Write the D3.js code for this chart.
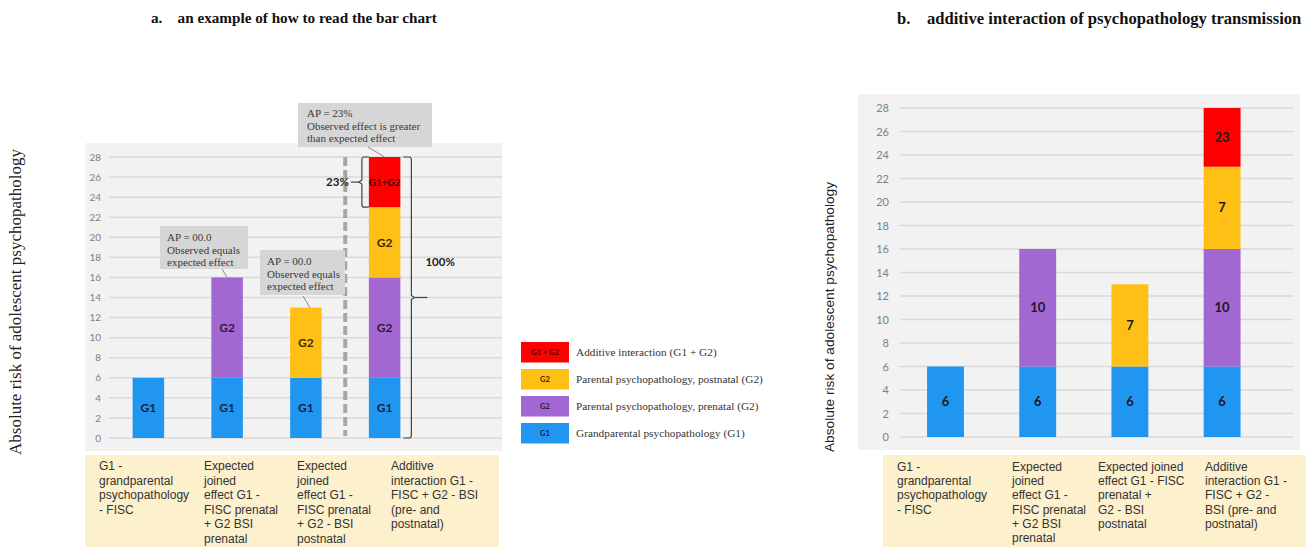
<!DOCTYPE html>
<html>
<head>
<meta charset="utf-8">
<script src="https://cdn.jsdelivr.net/npm/d3@7"></script>
<style>
  html, body { margin: 0; padding: 0; background: #fff; }
  svg { display: block; }
</style>
</head>
<body>
<svg id="chart" width="1306" height="547"></svg>
<script>
// ---- data ----
const categories = ["G1", "G1+G2pre", "G1+G2post", "G1+G2all"];
const seriesKeys = ["g1", "g2pre", "g2post", "interaction"];
const g1Values = [6, 6, 6, 6];
const g2PrenatalValues = [0, 10, 0, 10];
const g2PostnatalValues = [0, 0, 7, 7];
const interactionValues = [0, 0, 0, 5];
const yTicks = [0, 2, 4, 6, 8, 10, 12, 14, 16, 18, 20, 22, 24, 26, 28];

// segment captions, panel a (symbolic) and panel b (numeric)
const captionsA = { g1: "G1", g2pre: "G2", g2post: "G2", interaction: "G1+G2" };
const captionsB = { g1: ["6", "6", "6", "6"], g2pre: ["", "10", "", "10"],
                    g2post: ["", "", "7", "7"], interaction: ["", "", "", "23"] };

const categoryLabelsA = [
  ["G1 -", "grandparental", "psychopathology", "- FISC"],
  ["Expected", "joined", "effect G1 -", "FISC prenatal", "+ G2 BSI", "prenatal"],
  ["Expected", "joined", "effect G1 -", "FISC prenatal", "+ G2 - BSI", "postnatal"],
  ["Additive", "interaction G1 -", "FISC + G2 - BSI", "(pre- and", "postnatal)"]
];
const categoryLabelsB = [
  ["G1 -", "grandparental", "psychopathology", "- FISC"],
  ["Expected", "joined", "effect G1 -", "FISC prenatal", "+ G2 BSI", "prenatal"],
  ["Expected joined", "effect G1 - FISC", "prenatal +", "G2 - BSI", "postnatal"],
  ["Additive", "interaction G1 -", "FISC + G2 -", "BSI (pre- and", "postnatal)"]
];

const legendItems = [
  { key: "interaction", tag: "G1 + G2", text: "Additive interaction (G1 + G2)" },
  { key: "g2post", tag: "G2", text: "Parental psychopathology, postnatal (G2)" },
  { key: "g2pre", tag: "G2", text: "Parental psychopathology, prenatal (G2)" },
  { key: "g1", tag: "G1", text: "Grandparental psychopathology (G1)" }
];

const colors = { g1: "#2196f0", g2pre: "#a367d1", g2post: "#ffc016", interaction: "#ff0000" };
const captionColors = { g1: "#13233f", g2pre: "#2b1840", g2post: "#3a2a05", interaction: "#4a0505" };

const rows = categories.map((c, i) => ({
  cat: c,
  g1: g1Values[i],
  g2pre: g2PrenatalValues[i],
  g2post: g2PostnatalValues[i],
  interaction: interactionValues[i]
}));
const stacked = d3.stack().keys(seriesKeys)(rows);

const svg = d3.select("#chart");
const serif = "'Liberation Serif', 'Times New Roman', serif";
const sans = "'Liberation Sans', Arial, sans-serif";
const calibri = "Lato, 'Open Sans', sans-serif";

// ---- panel titles ----
svg.append("text").attr("x", 151).attr("y", 23)
  .attr("font-family", serif).attr("font-weight", "bold").attr("font-size", 15.2).attr("fill", "#111")
  .text("a.\u00a0\u00a0\u00a0\u00a0an example of how to read the bar chart");
svg.append("text").attr("x", 897).attr("y", 24)
  .attr("font-family", serif).attr("font-weight", "bold").attr("font-size", 16.6).attr("fill", "#111")
  .text("b.\u00a0\u00a0\u00a0\u00a0additive interaction of psychopathology transmission");

function drawPanel(cfg) {
  const g = svg.append("g");
  const x = d3.scaleBand().domain(categories).range(cfg.xRange).paddingInner(0.6).paddingOuter(0.3);
  const y = d3.scaleLinear().domain([0, 28]).range(cfg.yRange);

  // plot background
  g.append("rect").attr("x", cfg.bg[0]).attr("y", cfg.bg[1])
    .attr("width", cfg.bg[2] - cfg.bg[0]).attr("height", cfg.bg[3] - cfg.bg[1])
    .attr("fill", "#f2f2f2");

  // gridlines
  g.selectAll(".grid").data(yTicks).join("line")
    .attr("x1", cfg.gridX[0]).attr("x2", cfg.gridX[1])
    .attr("y1", d => y(d)).attr("y2", d => y(d))
    .attr("stroke", "#d9d9d9").attr("stroke-width", 1.5);

  // y axis tick labels
  const axis = d3.axisLeft(y).tickValues(yTicks).tickSize(0).tickPadding(0);
  const ax = g.append("g").attr("transform", `translate(${cfg.tickX},0)`).call(axis);
  ax.select(".domain").remove();
  ax.selectAll("text").attr("font-family", calibri).attr("font-size", cfg.tickSize).attr("fill", "#808080");

  // y title
  g.append("text")
    .attr("transform", `translate(${cfg.yTitle[0]},${cfg.yTitle[1]}) rotate(-90)`)
    .attr("text-anchor", "middle")
    .attr("font-family", cfg.yTitleFont).attr("font-size", cfg.yTitleSize).attr("fill", "#222")
    .text("Absolute risk of adolescent psychopathology");

  // stacked bars
  const layers = g.selectAll(".layer").data(stacked).join("g")
    .attr("fill", d => colors[d.key]);
  layers.selectAll("rect").data(d => d.filter(s => s[1] > s[0])).join("rect")
    .attr("x", d => x(d.data.cat))
    .attr("width", x.bandwidth())
    .attr("y", d => y(d[1]))
    .attr("height", d => y(d[0]) - y(d[1]));

  // segment captions
  stacked.forEach(layer => {
    layer.forEach((s, i) => {
      if (s[1] <= s[0]) return;
      const txt = cfg.caption(layer.key, i);
      if (!txt) return;
      const small = layer.key === "interaction" && cfg.smallInteraction;
      g.append("text")
        .attr("x", x(s.data.cat) + x.bandwidth() / 2)
        .attr("y", y((s[0] + s[1]) / 2))
        .attr("dy", "0.35em")
        .attr("text-anchor", "middle")
        .attr("font-family", calibri).attr("font-weight", "bold")
        .attr("font-size", small ? 10 : cfg.captionSize)
        .attr("fill", cfg.captionFill(layer.key))
        .text(txt);
    });
  });

  // category label box
  g.append("rect").attr("x", cfg.box[0]).attr("y", cfg.box[1])
    .attr("width", cfg.box[2] - cfg.box[0]).attr("height", cfg.box[3] - cfg.box[1])
    .attr("fill", "#fdf0cd");
  cfg.labels.forEach((lines, i) => {
    const t = g.append("text").attr("font-family", sans).attr("font-size", 12).attr("fill", "#333");
    lines.forEach((ln, j) => {
      t.append("tspan").attr("x", cfg.colX[i]).attr("y", cfg.labelY + j * cfg.lineH).text(ln);
    });
  });
  return { g, x, y };
}

// ---- panel a ----
const A = drawPanel({
  xRange: [109, 424], yRange: [438, 157], bg: [85, 143, 502, 451], gridX: [109, 502],
  tickX: 101, tickSize: 10, yTitle: [21, 302], yTitleFont: serif, yTitleSize: 17,
  caption: (k) => captionsA[k], captionSize: 12, smallInteraction: true,
  captionFill: k => captionColors[k],
  box: [85, 455, 499, 547], labels: categoryLabelsA, colX: [99, 204, 297, 391], labelY: 470, lineH: 14.5
});

// ---- panel b ----
const B = drawPanel({
  xRange: [899.4, 1268.2], yRange: [437, 108], bg: [858, 94, 1300, 450], gridX: [900, 1293],
  tickX: 889, tickSize: 11, yTitle: [834, 317], yTitleFont: sans, yTitleSize: 13.7,
  caption: (k, i) => captionsB[k][i], captionSize: 13, smallInteraction: false,
  captionFill: () => "#1a1a1a",
  box: [883, 455, 1306, 547], labels: categoryLabelsB, colX: [897, 1012, 1098, 1205], labelY: 471, lineH: 14.2
});

// ---- annotations on panel a ----
(function () {
  const { g, x, y } = A;
  const bw = x.bandwidth();
  const top = d3.max(stacked[stacked.length - 1], s => s[1]);
  const lastCat = categories[3];
  const interactionBase = stacked[2][3][1];

  // dashed separator between expected and observed bars
  const sepX = (x(categories[2]) + bw + x(lastCat)) / 2;
  g.append("line").attr("x1", sepX).attr("x2", sepX).attr("y1", y(top)).attr("y2", y(0) - 2)
    .attr("stroke", "#a6a6a6").attr("stroke-width", 4).attr("stroke-dasharray", "9,4");

  // callout boxes
  const callouts = [
    { box: [298, 103, 432, 147], pad: 9, base: 14, lines: ["AP = 23%", "Observed effect is greater", "than expected effect"],
      lead: [[368, 147], [x(lastCat) + bw / 2, y(top)]] },
    { box: [160, 226, 248, 269], pad: 7, base: 15, lines: ["AP = 00.0", "Observed equals", "expected effect"],
      lead: [[222, 269], [x(categories[1]) + bw / 2, y(16)]] },
    { box: [260, 250, 345, 295], pad: 7, base: 15, lines: ["AP = 00.0", "Observed equals", "expected effect"],
      lead: [[303, 296], [x(categories[2]) + bw / 2 + 4, y(13)]] }
  ];
  callouts.forEach(c => {
    g.append("rect").attr("x", c.box[0]).attr("y", c.box[1])
      .attr("width", c.box[2] - c.box[0]).attr("height", c.box[3] - c.box[1]).attr("fill", "#d6d6d6");
    g.append("line").attr("x1", c.lead[0][0]).attr("y1", c.lead[0][1])
      .attr("x2", c.lead[1][0]).attr("y2", c.lead[1][1]).attr("stroke", "#888").attr("stroke-width", 1);
    const t = g.append("text").attr("font-family", serif).attr("font-size", 11).attr("fill", "#3a3a3a");
    c.lines.forEach((ln, j) => t.append("tspan").attr("x", c.box[0] + c.pad).attr("y", c.box[1] + c.base + j * 12.5).text(ln));
  });

  // small left brace around the interaction segment
  const lx = x(lastCat) - 7, ly0 = y(top), ly1 = y(interactionBase), lm = (ly0 + ly1) / 2;
  g.append("path")
    .attr("d", `M${lx + 7},${ly0} L${lx + 2},${ly0} Q${lx},${ly0} ${lx},${ly0 + 3} L${lx},${lm - 2} L${lx - 3},${lm} L${lx},${lm + 2} L${lx},${ly1 - 3} Q${lx},${ly1} ${lx + 2},${ly1} L${lx + 7},${ly1}`)
    .attr("fill", "none").attr("stroke", "#444").attr("stroke-width", 1.2);
  g.append("line").attr("x1", lx - 11).attr("x2", lx - 3).attr("y1", lm).attr("y2", lm)
    .attr("stroke", "#444").attr("stroke-width", 1.2);
  g.append("text").attr("x", lx - 13).attr("y", lm).attr("dy", "0.35em").attr("text-anchor", "end")
    .attr("font-family", calibri).attr("font-weight", "bold").attr("font-size", 11.5).attr("fill", "#222")
    .text("23%");

  // large right brace spanning the whole observed bar
  const rx = x(lastCat) + bw + 11, ry0 = y(top), ry1 = y(0), rm = (ry0 + ry1) / 2;
  g.append("path")
    .attr("d", `M${rx - 8},${ry0} L${rx - 2},${ry0} Q${rx},${ry0} ${rx},${ry0 + 3} L${rx},${rm - 2} L${rx + 3},${rm} L${rx},${rm + 2} L${rx},${ry1 - 3} Q${rx},${ry1} ${rx - 2},${ry1} L${rx - 8},${ry1}`)
    .attr("fill", "none").attr("stroke", "#444").attr("stroke-width", 1.2);
  g.append("line").attr("x1", rx + 3).attr("x2", rx + 16).attr("y1", rm).attr("y2", rm)
    .attr("stroke", "#444").attr("stroke-width", 1.2);
  g.append("text").attr("x", rx + 14).attr("y", y(17.5)).attr("dy", "0.35em")
    .attr("font-family", calibri).attr("font-weight", "bold").attr("font-size", 11.5).attr("fill", "#222")
    .text("100%");
})();

// ---- legend ----
const legend = svg.append("g").attr("transform", "translate(521,342)");
const li = legend.selectAll("g").data(legendItems).join("g")
  .attr("transform", (d, i) => `translate(0,${i * 27})`);
li.append("rect").attr("width", 48).attr("height", 20.5).attr("fill", d => colors[d.key]);
li.append("text").attr("x", 24).attr("y", 10.5).attr("dy", "0.35em").attr("text-anchor", "middle")
  .attr("font-family", calibri).attr("font-weight", "bold").attr("font-size", 7.5)
  .attr("fill", d => captionColors[d.key]).text(d => d.tag);
li.append("text").attr("x", 55).attr("y", 10.5).attr("dy", "0.35em")
  .attr("font-family", serif).attr("font-size", 11.3).attr("fill", "#333").text(d => d.text);
</script>
</body>
</html>
